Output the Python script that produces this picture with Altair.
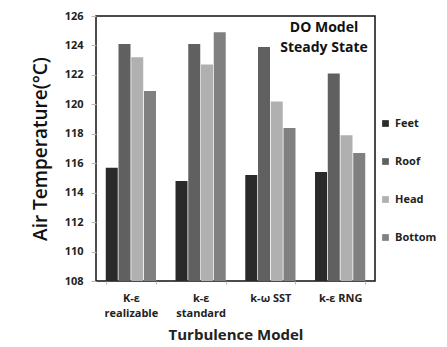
import altair as alt
import pandas as pd

models = ["K-ε|realizable", "k-ε|standard", "k-ω SST", "k-ε RNG"]
series = ["Feet", "Roof", "Head", "Bottom"]
feet = [115.7, 114.8, 115.2, 115.4]
roof = [124.1, 124.1, 123.9, 122.1]
head = [123.2, 122.7, 120.2, 117.9]
bottom = [120.9, 124.9, 118.4, 116.7]
colors = ["#2a2a2a", "#606060", "#b0b0b0", "#808080"]

rows = []
for i, m in enumerate(models):
    for s, vals in zip(series, [feet, roof, head, bottom]):
        rows.append({"model": m, "series": s, "value": vals[i]})
df = pd.DataFrame(rows)

FONT = "Open Sans"

bars = alt.Chart(df).mark_bar(clip=True).encode(
    x=alt.X("model:N", sort=models,
            scale=alt.Scale(paddingInner=0.28, paddingOuter=0.14),
            axis=alt.Axis(title="Turbulence Model", labelExpr="split(datum.label, '|')",
                          labelAngle=0, labelFont=FONT, labelFontWeight="bold",
                          labelFontSize=11, labelColor="#222", labelPadding=8,
                          titleFont=FONT, titleFontWeight="bold", titleFontSize=15,
                          titleColor="#222", titlePadding=9, domain=False,
                          tickColor="#bbb", tickSize=3, tickBand="extent", labelLineHeight=15)),
    xOffset=alt.XOffset("series:N", sort=series, scale=alt.Scale(paddingInner=0.06)),
    y=alt.Y("value:Q", scale=alt.Scale(domain=[108, 126], nice=False, zero=False),
            axis=alt.Axis(title="Air Temperature(°C)", values=list(range(108, 127, 2)),
                          grid=False, domain=False, labelFont=FONT, labelFontWeight="bold",
                          labelFontSize=11, labelColor="#222", tickColor="#bbb", tickSize=5,
                          labelPadding=8, titleFont=FONT, titleFontWeight=600,
                          titleFontSize=19, titleColor="#111", titlePadding=14)),
    color=alt.Color("series:N", sort=series,
                    scale=alt.Scale(domain=series, range=colors),
                    legend=alt.Legend(title=None, orient="none", legendX=284, legendY=102,
                                      symbolType="square", symbolSize=45, symbolStrokeWidth=0,
                                      labelFont=FONT, labelFontWeight="bold", labelFontSize=11,
                                      labelColor="#222", rowPadding=26, symbolOpacity=1,
                                      labelOffset=4)),
)

txt = pd.DataFrame({"t": ["DO Model", "Steady State"], "yy": [12, 32]})
title = alt.Chart(txt).mark_text(font=FONT, fontWeight="bold", fontSize=14, align="center",
                                 baseline="middle", color="#111").encode(
    x=alt.value(228), y=alt.Y("yy:Q", scale=None), text="t:N")

chart = alt.layer(bars, title).properties(
    width=279, height=265,
    autosize=alt.AutoSizeParams(type="none"),
    padding={"left": 88, "top": 8, "right": 64, "bottom": 66},
).configure_view(stroke="#111", strokeWidth=1.5)

chart.save("out.html", embed_options={"renderer": "svg", "actions": False})
